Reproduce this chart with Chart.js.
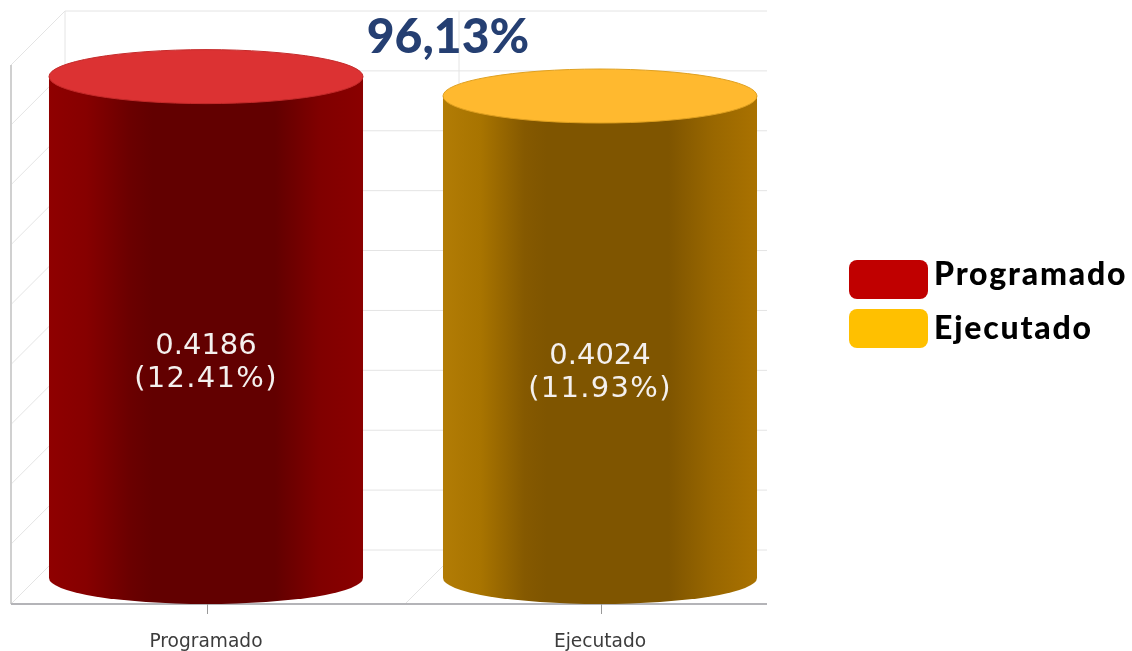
<!DOCTYPE html>
<html>
<head>
<meta charset="utf-8">
<script src="https://cdn.jsdelivr.net/npm/chart.js@4"></script>
<style>
    body { margin: 0; background: #fff; }
    #wrap { position: relative; width: 1132px; height: 651px; overflow: hidden; }
    #kpi { position: absolute; left: 348px; top: 0; width: 200px; text-align: center; font: 900 48px/70px Lato, sans-serif; color: #253f72; }
    #legend { position: absolute; left: 849px; top: 260px; }
    .leg-item { display: flex; align-items: center; height: 39px; margin-bottom: 10px; }
    .leg-box { width: 79px; height: 39px; border-radius: 8px; margin-right: 6px; }
    .leg-text { font: 900 32px Lato, sans-serif; letter-spacing: 1.8px; color: #000; position: relative; top: -2px; }
    .leg-item:first-child .leg-text { top: -7px; }
</style>
</head>
<body>
<div id="wrap">
    <canvas id="chart" width="1132" height="651"></canvas>
    <div id="kpi"></div>
    <div id="legend"></div>
</div>
<script>
const categories = ["Programado", "Ejecutado"];
const values = [0.4186, 0.4024];
const percents = ["12.41%", "11.93%"];
const yTicks = [0, 0.05, 0.1, 0.15, 0.2, 0.25, 0.3, 0.35, 0.4, 0.45];
const kpiText = "96,13%";

const legendColors = ["#c00000", "#ffc000"];
const topColors = ["#dc3233", "#ffb92f"];
const rimColors = ["#c42a2a", "#dfa020"];
const sideStops = [
    ["#8f0000", "#860000", "#6a0000", "#620000", "#620000", "#800000", "#8a0000"],
    ["#b27c05", "#a87400", "#855900", "#7f5500", "#7f5500", "#996700", "#aa7200"]
];
const stopAt = [0, 0.12, 0.26, 0.33, 0.72, 0.86, 1];

const DEPTH = 27;     // half depth of the fake 3d box
const RIGHT_EDGE = 767;

function sideGradient(ctx, bar, i) {
    const g = ctx.createLinearGradient(bar.x - bar.width / 2, 0, bar.x + bar.width / 2, 0);
    sideStops[i].forEach((c, k) => g.addColorStop(stopAt[k], c));
    return g;
}

const cylinderPlugin = {
    id: "cylinder",
    beforeDatasetsDraw(chart) {
        const ctx = chart.ctx;
        const yScale = chart.scales.y;
        const xScale = chart.scales.x;
        const front = chart.chartArea.left + 2;
        const back = front + DEPTH * 2;
        const step = xScale.getPixelForValue(1) - xScale.getPixelForValue(0);
        // walls sit one pixel above the bar scale in the original
        const gridY = v => yScale.getPixelForValue(v) - 1;
        const yTop = gridY(yTicks[yTicks.length - 1]) - DEPTH;
        const yBase = gridY(0);

        ctx.save();
        ctx.lineWidth = 1;
        ctx.strokeStyle = "#e4e4e4";
        yTicks.forEach(v => {
            const y = gridY(v);
            ctx.beginPath();
            ctx.moveTo(front, y + DEPTH);
            ctx.lineTo(back, y - DEPTH);
            ctx.lineTo(RIGHT_EDGE, y - DEPTH);
            ctx.stroke();
        });
        // back wall verticals and floor diagonal
        categories.forEach((_, i) => {
            const x = back + step * i;
            ctx.beginPath();
            ctx.moveTo(x, yTop);
            ctx.lineTo(x, yBase - DEPTH);
            ctx.lineTo(x - DEPTH * 2, yBase + DEPTH);
            ctx.stroke();
        });
        ctx.strokeStyle = "#d0d0d0";
        ctx.lineWidth = 2;
        ctx.beginPath();
        ctx.moveTo(front, yTop + DEPTH * 2);
        ctx.lineTo(front, yBase + DEPTH);
        ctx.stroke();
        ctx.strokeStyle = "#b4b4b8";
        ctx.beginPath();
        ctx.moveTo(front, yBase + DEPTH);
        ctx.lineTo(RIGHT_EDGE, yBase + DEPTH);
        ctx.stroke();
        // tick marks
        ctx.lineWidth = 1;
        ctx.strokeStyle = "#999";
        categories.forEach((_, i) => {
            const x = Math.round(xScale.getPixelForValue(i)) + 1.5;
            ctx.beginPath();
            ctx.moveTo(x, yBase + DEPTH);
            ctx.lineTo(x, yBase + DEPTH + 10);
            ctx.stroke();
        });
        ctx.restore();
    },
    afterDatasetsDraw(chart) {
        const ctx = chart.ctx;
        const yScale = chart.scales.y;
        const yBase = yScale.getPixelForValue(0);
        chart.getDatasetMeta(0).data.forEach((bar, i) => {
            const rx = bar.width / 2;
            ctx.save();
            // bottom curve
            ctx.fillStyle = sideGradient(ctx, bar, i);
            ctx.beginPath();
            ctx.ellipse(bar.x, yBase, rx, DEPTH - 1, 0, 0, Math.PI);
            ctx.fill();
            // top face
            ctx.fillStyle = topColors[i];
            ctx.strokeStyle = rimColors[i];
            ctx.lineWidth = 1;
            ctx.beginPath();
            ctx.ellipse(bar.x, bar.y, rx, DEPTH, 0, 0, Math.PI * 2);
            ctx.fill();
            ctx.stroke();
            // value label
            const mid = (bar.y + yBase) / 2 + 35;
            ctx.fillStyle = "#f4f0ee";
            ctx.font = "29px 'DejaVu Sans'";
            ctx.textAlign = "center";
            ctx.textBaseline = "middle";
            ctx.fillText(values[i].toFixed(4), bar.x, mid - 16);
            ctx.letterSpacing = "1.3px";
            ctx.fillText("(" + percents[i] + ")", bar.x, mid + 17);
            ctx.restore();
        });
    }
};

const chart = new Chart(document.getElementById("chart"), {
    type: "bar",
    data: {
        labels: categories,
        datasets: [{
            data: values,
            categoryPercentage: 1,
            barPercentage: 0.797,
            borderWidth: 0,
            backgroundColor: legendColors
        }]
    },
    options: {
        responsive: false,
        animation: false,
        layout: { padding: { left: 9, right: 335, top: 39, bottom: 0 } },
        plugins: { legend: { display: false }, title: { display: false }, tooltip: { enabled: false } },
        scales: {
            x: {
                grid: { display: false, drawTicks: false },
                border: { display: false },
                afterFit: s => { s.height = 73; },
                ticks: { padding: 53, color: "#3c3c3c", maxRotation: 0, autoSkip: false, font: { family: "'DejaVu Sans'", size: 18.6 } }
            },
            y: {
                display: false,
                min: 0,
                max: yTicks[yTicks.length - 1],
                ticks: { stepSize: 0.05 }
            }
        }
    },
    plugins: [cylinderPlugin]
});

// bars only have a width after the first layout, so the side shading goes on here
chart.data.datasets[0].backgroundColor = chart.getDatasetMeta(0).data.map((bar, i) => sideGradient(chart.ctx, bar, i));
chart.update("none");

document.getElementById("kpi").textContent = kpiText;
const legendEl = document.getElementById("legend");
categories.forEach((name, i) => {
    const item = document.createElement("div");
    item.className = "leg-item";
    item.innerHTML = `<div class="leg-box" style="background:${legendColors[i]}"></div><div class="leg-text">${name}</div>`;
    legendEl.appendChild(item);
});
</script>
</body>
</html>
